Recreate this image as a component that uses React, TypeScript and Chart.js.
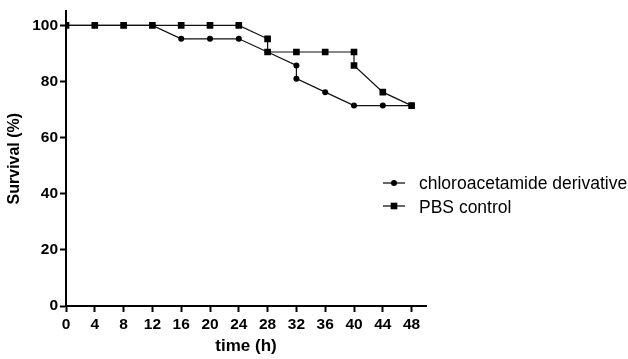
import React, { useEffect, useRef } from "react";
import { Chart, registerables } from "chart.js";

Chart.register(...registerables);

const chloroLabel = "chloroacetamide derivative";
const chloroTimes = [0, 4, 8, 12, 16, 20, 24, 28, 32, 32, 36, 40, 44, 48];
const chloroSurvival = [100, 100, 100, 100, 95.2, 95.2, 95.2, 90.5, 85.7, 81.0, 76.2, 71.4, 71.4, 71.4];

const pbsLabel = "PBS control";
const pbsTimes = [0, 4, 8, 12, 16, 20, 24, 28, 28, 32, 36, 40, 40, 44, 48];
const pbsSurvival = [100, 100, 100, 100, 100, 100, 100, 95.2, 90.5, 90.5, 90.5, 90.5, 85.7, 76.2, 71.4];

const xTitle = "time (h)";
const yTitle = "Survival (%)";

const FONT = "Arial, 'Liberation Sans', Helvetica, sans-serif";

const legendPlugin = {
  id: "customLegend",
  afterDraw(chart: any) {
    const ctx = chart.ctx;
    const items = [
      { label: chloroLabel, style: "circle", cy: 183, base: 188.5 },
      { label: pbsLabel, style: "rect", cy: 206, base: 213 },
    ];
    ctx.save();
    for (const it of items) {
      ctx.strokeStyle = "#000";
      ctx.lineWidth = 1.2;
      ctx.beginPath();
      ctx.moveTo(383, it.cy);
      ctx.lineTo(405, it.cy);
      ctx.stroke();
      ctx.fillStyle = "#000";
      if (it.style === "circle") {
        ctx.beginPath();
        ctx.arc(394, it.cy, 3, 0, Math.PI * 2);
        ctx.fill();
      } else {
        ctx.fillRect(394 - 3.3, it.cy - 3.3, 6.6, 6.6);
      }
      ctx.font = `17.5px ${FONT}`;
      ctx.textBaseline = "alphabetic";
      ctx.textAlign = "left";
      ctx.fillText(it.label, 419, it.base);
    }
    ctx.restore();
  },
};

export default function App() {
  const ref = useRef<HTMLCanvasElement | null>(null);

  useEffect(() => {
    if (!ref.current) return;
    const chloroData = chloroTimes.map((t, i) => ({ x: t, y: chloroSurvival[i] }));
    const pbsData = pbsTimes.map((t, i) => ({ x: t, y: pbsSurvival[i] }));
    const chart = new Chart(ref.current, {
      type: "line",
      data: {
        datasets: [
          {
            label: chloroLabel,
            data: chloroData,
            borderColor: "#111",
            backgroundColor: "#000",
            borderWidth: 1.2,
            pointStyle: "circle",
            pointRadius: 3,
            pointBorderWidth: 0,
            pointBackgroundColor: "#000",
            tension: 0,
          },
          {
            label: pbsLabel,
            data: pbsData,
            borderColor: "#111",
            backgroundColor: "#000",
            borderWidth: 1.2,
            pointStyle: "rect",
            pointRadius: 4.7,
            pointBorderWidth: 0,
            pointBackgroundColor: "#000",
            tension: 0,
          },
        ],
      },
      options: {
        responsive: false,
        animation: false,
        devicePixelRatio: 1,
        layout: { padding: { top: 11, right: 202, left: 0, bottom: 0 } },
        plugins: {
          legend: { display: false },
          tooltip: { enabled: false },
        },
        scales: {
          x: {
            type: "linear",
            min: 0,
            max: 50,
            afterFit: (scale: any) => {
              scale.height = 53;
            },
            afterBuildTicks: (scale: any) => {
              scale.ticks = scale.ticks.filter((t: any) => t.value <= 48);
            },
            ticks: {
              stepSize: 4,
              includeBounds: false,
              color: "#000",
              padding: 3,
              maxRotation: 0,
              autoSkip: false,
              font: { family: FONT, size: 15.5, weight: "bold" },
            },
            grid: {
              display: true,
              drawOnChartArea: false,
              drawTicks: true,
              tickLength: 6,
              tickWidth: 2,
              tickColor: "#000",
            },
            border: { display: true, color: "#000", width: 2 },
            title: {
              display: true,
              text: xTitle,
              color: "#000",
              padding: { top: 0, bottom: 2 },
              font: { family: FONT, size: 17, weight: "bold" },
            },
          },
          y: {
            type: "linear",
            min: 0,
            max: 105,
            afterFit: (scale: any) => {
              scale.width = 66;
            },
            afterBuildTicks: (scale: any) => {
              scale.ticks = scale.ticks.filter((t: any) => t.value <= 100);
            },
            ticks: {
              stepSize: 20,
              includeBounds: false,
              color: "#000",
              padding: 2,
              font: { family: FONT, size: 15.5, weight: "bold" },
            },
            grid: {
              display: true,
              drawOnChartArea: false,
              drawTicks: true,
              tickLength: 6,
              tickWidth: 2,
              tickColor: "#000",
            },
            border: { display: true, color: "#000", width: 2 },
            title: {
              display: true,
              text: yTitle,
              color: "#000",
              padding: { top: 5, bottom: 0 },
              font: { family: FONT, size: 16, weight: "bold" },
            },
          },
        },
      },
      plugins: [legendPlugin],
    });
    return () => chart.destroy();
  }, []);

  return (
    <div style={{ position: "absolute", left: 0, top: 0, width: 628, height: 359, background: "#fff" }}>
      <canvas ref={ref} width={628} height={359} />
    </div>
  );
}
